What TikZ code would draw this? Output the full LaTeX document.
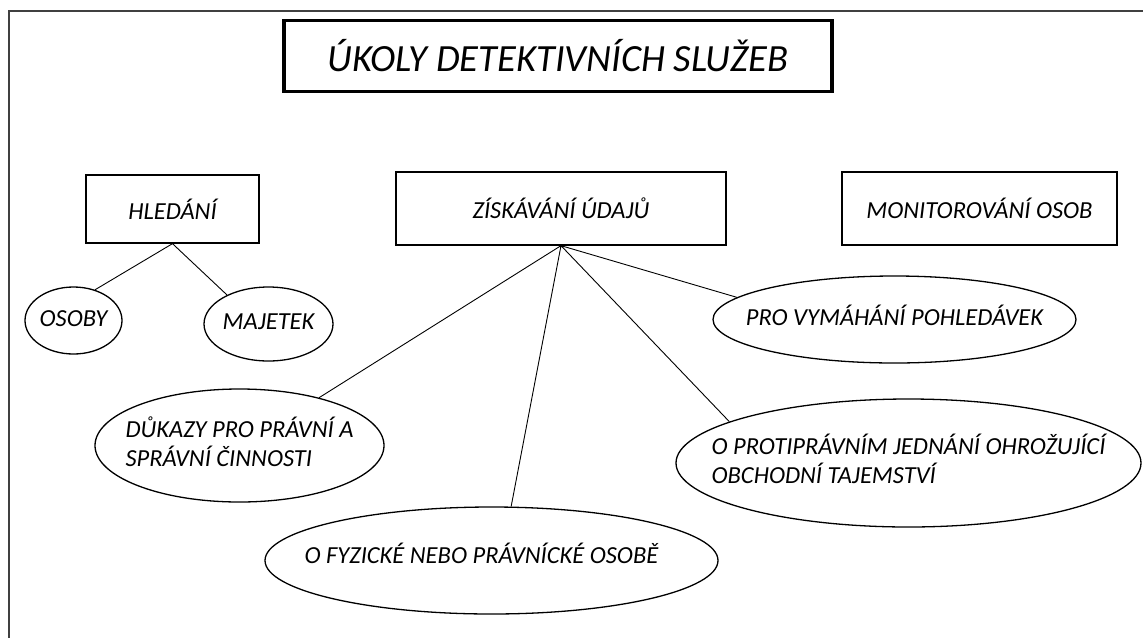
\documentclass[tikz,border=0pt]{standalone}
\usepackage{fontspec}
\setmainfont{Carlito}
\usetikzlibrary{shapes.geometric}

\newcommand{\bubbletext}[1]{\makebox[0pt]{\begin{tabular}{@{}l@{}}#1\end{tabular}}}

\begin{document}
\begin{tikzpicture}[x=1pt,y=-1pt,
    every node/.style={font=\fontsize{24.5}{28}\selectfont\itshape},
    box/.style={draw, line width=1.3pt},
    bubble/.style={draw, ellipse, line width=1.3pt, inner sep=0pt}]
  \useasboundingbox (0,0) rectangle (1143,638);
  \draw[line width=1.3pt, black!75] (1143,11) -- (9,11) -- (9,638);
  \node[draw, line width=3.5pt, minimum width=548pt, minimum height=71pt,
        font=\fontsize{38.5}{44}\selectfont\itshape] (title) at (558,56) {ÚKOLY DETEKTIVNÍCH SLUŽEB};
  \node[box, minimum width=173pt, minimum height=68pt] (hled) at (172.5,209) {HLEDÁNÍ};
  \node[box, minimum width=330pt, minimum height=73pt] (zisk) at (561,208.5) {ZÍSKÁVÁNÍ ÚDAJŮ};
  \node[box, minimum width=275pt, minimum height=73pt] (monit) at (979.5,208.5) {MONITOROVÁNÍ OSOB};
  \node[bubble, minimum width=97pt, minimum height=67pt] (osoby) at (73.5,320.5) {\bubbletext{OSOBY}};
  \node[bubble, minimum width=129pt, minimum height=74pt] (majetek) at (268.5,324) {\bubbletext{MAJETEK}};
  \node[bubble, minimum width=363pt, minimum height=87pt] (vym) at (894.5,319.5) {\bubbletext{PRO VYMÁHÁNÍ POHLEDÁVEK}};
  \node[bubble, minimum width=289pt, minimum height=113pt] (dukazy) at (239.5,445.5)
        {\bubbletext{DŮKAZY PRO PRÁVNÍ A\\ SPRÁVNÍ ČINNOSTI}};
  \node[bubble, minimum width=453pt, minimum height=107pt] (fyz) at (491.5,560.5)
        {\bubbletext{\raisebox{6pt}{O FYZICKÉ NEBO PRÁVNÍCKÉ OSOBĚ\hspace*{20pt}}}};
  \node[bubble, minimum width=465pt, minimum height=128pt] (proti) at (908.5,463)
        {\bubbletext{O PROTIPRÁVNÍM JEDNÁNÍ OHROŽUJÍCÍ\\ OBCHODNÍ TAJEMSTVÍ}};
  \draw[line width=.9pt] (osoby.55) -- (hled.south) -- (majetek.145);
  \draw[line width=.9pt] (zisk.south) -- (vym.172) (zisk.south) -- (dukazy.31)
        (zisk.south) -- (fyz.70) (zisk.south) -- (proti.167);
\end{tikzpicture}
\end{document}
